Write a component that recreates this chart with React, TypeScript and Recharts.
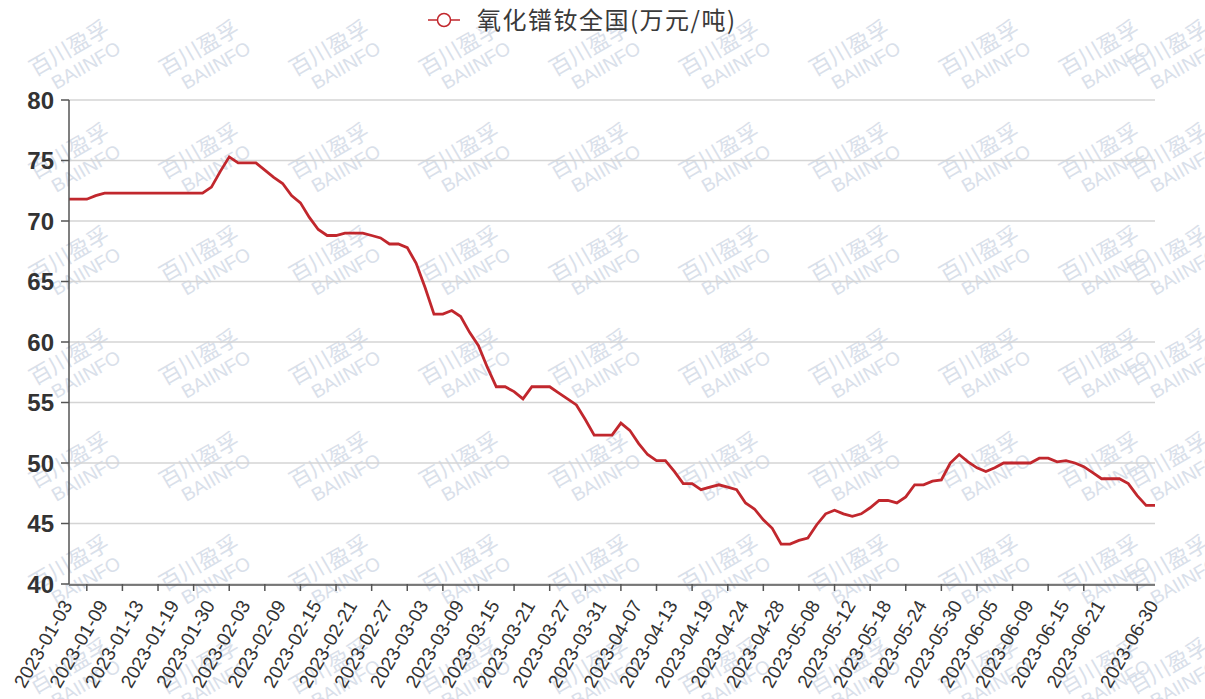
import { LineChart, Line, XAxis, YAxis, CartesianGrid } from 'recharts';

// Chinese working days, 2023-01-03 .. 2023-06-30
const DATES = [
  '2023-01-03', '2023-01-04', '2023-01-05', '2023-01-06', '2023-01-09', '2023-01-10', '2023-01-11', '2023-01-12',
  '2023-01-13', '2023-01-16', '2023-01-17', '2023-01-18', '2023-01-19', '2023-01-20', '2023-01-28', '2023-01-29',
  '2023-01-30', '2023-01-31', '2023-02-01', '2023-02-02', '2023-02-03', '2023-02-06', '2023-02-07', '2023-02-08',
  '2023-02-09', '2023-02-10', '2023-02-13', '2023-02-14', '2023-02-15', '2023-02-16', '2023-02-17', '2023-02-20',
  '2023-02-21', '2023-02-22', '2023-02-23', '2023-02-24', '2023-02-27', '2023-02-28', '2023-03-01', '2023-03-02',
  '2023-03-03', '2023-03-06', '2023-03-07', '2023-03-08', '2023-03-09', '2023-03-10', '2023-03-13', '2023-03-14',
  '2023-03-15', '2023-03-16', '2023-03-17', '2023-03-20', '2023-03-21', '2023-03-22', '2023-03-23', '2023-03-24',
  '2023-03-27', '2023-03-28', '2023-03-29', '2023-03-30', '2023-03-31', '2023-04-03', '2023-04-04', '2023-04-06',
  '2023-04-07', '2023-04-10', '2023-04-11', '2023-04-12', '2023-04-13', '2023-04-14', '2023-04-17', '2023-04-18',
  '2023-04-19', '2023-04-20', '2023-04-21', '2023-04-23', '2023-04-24', '2023-04-25', '2023-04-26', '2023-04-27',
  '2023-04-28', '2023-05-04', '2023-05-05', '2023-05-06', '2023-05-08', '2023-05-09', '2023-05-10', '2023-05-11',
  '2023-05-12', '2023-05-15', '2023-05-16', '2023-05-17', '2023-05-18', '2023-05-19', '2023-05-22', '2023-05-23',
  '2023-05-24', '2023-05-25', '2023-05-26', '2023-05-29', '2023-05-30', '2023-05-31', '2023-06-01', '2023-06-02',
  '2023-06-05', '2023-06-06', '2023-06-07', '2023-06-08', '2023-06-09', '2023-06-12', '2023-06-13', '2023-06-14',
  '2023-06-15', '2023-06-16', '2023-06-19', '2023-06-20', '2023-06-21', '2023-06-25', '2023-06-26', '2023-06-27',
  '2023-06-28', '2023-06-29', '2023-06-30',
];

// 氧化镨钕全国 price, 万元/吨
const PRICES = [
  71.8, 71.8, 71.8, 72.1, 72.3, 72.3, 72.3, 72.3, 72.3, 72.3, 72.3, 72.3, 72.3, 72.3, 72.3, 72.3,
  72.8, 74.1, 75.3, 74.8, 74.8, 74.8, 74.2, 73.6, 73.1, 72.1, 71.5, 70.3, 69.3, 68.8, 68.8, 69.0,
  69.0, 69.0, 68.8, 68.6, 68.1, 68.1, 67.8, 66.5, 64.5, 62.3, 62.3, 62.6, 62.1, 60.8, 59.7, 57.9,
  56.3, 56.3, 55.9, 55.3, 56.3, 56.3, 56.3, 55.8, 55.3, 54.8, 53.6, 52.3, 52.3, 52.3, 53.3, 52.7,
  51.6, 50.7, 50.2, 50.2, 49.3, 48.3, 48.3, 47.8, 48.0, 48.2, 48.0, 47.8, 46.7, 46.2, 45.3, 44.6,
  43.3, 43.3, 43.6, 43.8, 44.9, 45.8, 46.1, 45.8, 45.6, 45.8, 46.3, 46.9, 46.9, 46.7, 47.2, 48.2,
  48.2, 48.5, 48.6, 50.0, 50.7, 50.1, 49.6, 49.3, 49.6, 50.0, 50.0, 50.0, 50.0, 50.4, 50.4, 50.1,
  50.2, 50.0, 49.7, 49.2, 48.7, 48.7, 48.7, 48.3, 47.3, 46.5, 46.5,
];

// labelled categories
const X_TICKS = [
  '2023-01-03', '2023-01-09', '2023-01-13', '2023-01-19', '2023-01-30', '2023-02-03', '2023-02-09', '2023-02-15',
  '2023-02-21', '2023-02-27', '2023-03-03', '2023-03-09', '2023-03-15', '2023-03-21', '2023-03-27', '2023-03-31',
  '2023-04-07', '2023-04-13', '2023-04-19', '2023-04-24', '2023-04-28', '2023-05-08', '2023-05-12', '2023-05-18',
  '2023-05-24', '2023-05-30', '2023-06-05', '2023-06-09', '2023-06-15', '2023-06-21', '2023-06-30',
];

// the tick marks sit two categories before each label
const X_TICK_MARKS = [
  '2023-01-05', '2023-01-11', '2023-01-17', '2023-01-28', '2023-02-01', '2023-02-07', '2023-02-13', '2023-02-17',
  '2023-02-23', '2023-03-01', '2023-03-07', '2023-03-13', '2023-03-17', '2023-03-23', '2023-03-29', '2023-04-04',
  '2023-04-11', '2023-04-17', '2023-04-21', '2023-04-26', '2023-05-05', '2023-05-10', '2023-05-16', '2023-05-22',
  '2023-05-26', '2023-06-01', '2023-06-07', '2023-06-13', '2023-06-19', '2023-06-28',
];

const Y_TICKS = [40, 45, 50, 55, 60, 65, 70, 75, 80];

const SERIES_NAME = '氧化镨钕全国(万元/吨)';
const LINE_COLOR = '#c1272d';
const AXIS_COLOR = '#555';
const AXIS_FONT = '"Liberation Sans", Arial, sans-serif';
const CJK_FONT = '"Noto Sans CJK SC", sans-serif';

const data = DATES.map((date, i) => ({ date, price: PRICES[i] }));

function XTick({ x, y, payload }: any) {
  const tx = x + 4;
  const ty = y + 11;
  return (
    <text
      x={tx}
      y={ty}
      transform={`rotate(-60, ${tx}, ${ty})`}
      textAnchor="end"
      fontSize={19}
      fontFamily={AXIS_FONT}
      fill="#333"
    >
      {payload.value}
    </text>
  );
}

// tick mark only, no label
function MarkTick() {
  return <text />;
}

function Watermarks() {
  const cols = [73, 203, 333, 463, 593, 723, 853, 983, 1103, 1172];
  const rows = [55, 158, 261, 364, 467, 570, 673];
  return (
    <svg width={1205} height={699} style={{ position: 'absolute', left: 0, top: 0 }}>
      {rows.map((cy) =>
        cols.map((cx) => (
          <g key={`${cx}-${cy}`} transform={`translate(${cx}, ${cy}) rotate(-30)`} fill="#d9e0ea">
            <text x={0} y={0} textAnchor="middle" fontSize={22} fontFamily={CJK_FONT}>
              百川盈孚
            </text>
            <text x={6} y={22} textAnchor="middle" fontSize={19} fontFamily={AXIS_FONT}>
              BAIINFO
            </text>
          </g>
        ))
      )}
    </svg>
  );
}

function LegendBar() {
  return (
    <svg width={1205} height={50} style={{ position: 'absolute', left: 0, top: 0 }}>
      <line x1={428} y1={20} x2={460} y2={20} stroke={LINE_COLOR} strokeWidth={1.5} />
      <circle cx={444} cy={20} r={6.5} fill="#fff" stroke={LINE_COLOR} strokeWidth={1.5} />
      <text x={477} y={29} fontSize={24} letterSpacing={1.5} fill="#3a3a3a" fontFamily={CJK_FONT}>
        {SERIES_NAME}
      </text>
    </svg>
  );
}

export default function App() {
  return (
    <div style={{ position: 'absolute', left: 0, top: 0, width: 1205, height: 699, background: '#fff', overflow: 'hidden' }}>
      <Watermarks />
      <div style={{ position: 'absolute', left: 0, top: 0 }}>
        <LineChart width={1205} height={699} data={data} margin={{ top: 100, right: 50, bottom: 0, left: 0 }}>
          <CartesianGrid xAxisId="axisB" vertical={false} stroke="#d4d4d4" strokeWidth={1.5} />
          <XAxis
            xAxisId="axisA"
            dataKey="date"
            ticks={X_TICK_MARKS}
            interval={0}
            height={1}
            tickSize={7}
            stroke={AXIS_COLOR}
            strokeWidth={1.5}
            axisLine={false}
            tick={<MarkTick />}
          />
          <XAxis
            xAxisId="axisB"
            dataKey="date"
            ticks={X_TICKS}
            interval={0}
            height={114}
            tickSize={7}
            tickLine={false}
            stroke={AXIS_COLOR}
            strokeWidth={1.5}
            tick={<XTick />}
          />
          <YAxis
            domain={[40, 80]}
            ticks={Y_TICKS}
            width={69}
            tickSize={8}
            tickMargin={7}
            stroke={AXIS_COLOR}
            strokeWidth={1.5}
            tick={{ fontSize: 24, fontWeight: 'bold', fill: '#333', fontFamily: AXIS_FONT }}
          />
          <Line
            xAxisId="axisB"
            type="linear"
            dataKey="price"
            name={SERIES_NAME}
            stroke={LINE_COLOR}
            strokeWidth={2.8}
            dot={false}
            isAnimationActive={false}
          />
        </LineChart>
      </div>
      <LegendBar />
    </div>
  );
}
